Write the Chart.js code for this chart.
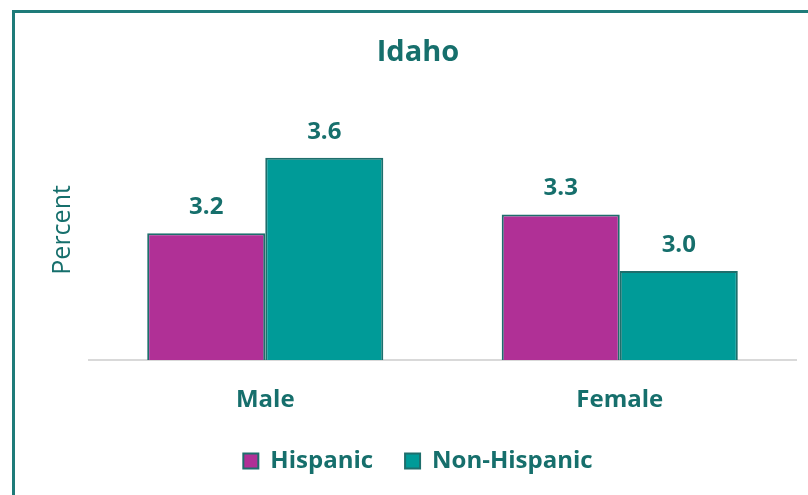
<!DOCTYPE html>
<html>
<head>
<meta charset="utf-8">
<script src="https://cdn.jsdelivr.net/npm/chart.js@4"></script>
<style>
  html, body { margin: 0; padding: 0; background: #fff; overflow: hidden; }
  #wrap { position: relative; width: 808px; height: 495px; }
  #frame { position: absolute; left: 12px; top: 10px; width: 900px; height: 600px;
           border-left: 3px solid #1e7b79; border-top: 3px solid #1e7b79; }
  canvas { position: absolute; left: 0; top: 0; }
</style>
</head>
<body>
<div id="wrap">
  <div id="frame"></div>
  <canvas id="idahoChart" width="808" height="495"></canvas>
</div>
<script>
const categories = ['Male', 'Female'];
const hispanic = [3.2, 3.3];
const nonHispanic = [3.6, 3.0];

const teal = '#166f6c';
const fontFamily = '"Open Sans", sans-serif';

// gray base line + value labels above each bar
const barLabels = {
  id: 'barLabels',
  beforeDatasetsDraw(chart) {
    const { ctx, chartArea } = chart;
    ctx.save();
    ctx.strokeStyle = '#d9d9d9';
    ctx.lineWidth = 2;
    ctx.beginPath();
    ctx.moveTo(chartArea.left, chartArea.bottom);
    ctx.lineTo(chartArea.right, chartArea.bottom);
    ctx.stroke();
    ctx.restore();
  },
  afterDatasetsDraw(chart) {
    const { ctx } = chart;
    ctx.save();
    ctx.font = 'bold 24px ' + fontFamily;
    ctx.fillStyle = teal;
    ctx.textAlign = 'center';
    ctx.textBaseline = 'middle';
    chart.data.datasets.forEach((ds, i) => {
      chart.getDatasetMeta(i).data.forEach((bar, j) => {
        ctx.fillText(ds.data[j].toFixed(1), bar.x, bar.y - 26);
      });
    });
    ctx.restore();
  }
};

const ctx = document.getElementById('idahoChart').getContext('2d');

const idahoChart = new Chart(ctx, {
  type: 'bar',
  data: {
    labels: categories,
    datasets: [{
      label: 'Hispanic',
      data: hispanic,
      backgroundColor: '#b03096',
      borderColor: '#1e6e6c',
      borderWidth: 2
    }, {
      label: 'Non-Hispanic',
      data: nonHispanic,
      backgroundColor: '#009b98',
      borderColor: '#1e6e6c',
      borderWidth: 2
    }]
  },
  options: {
    responsive: false,
    animation: false,
    layout: { padding: { left: 39, right: 11, top: 35, bottom: 12 } },
    datasets: { bar: { categoryPercentage: 0.666, barPercentage: 1 } },
    scales: {
      x: {
        grid: { display: false, drawTicks: false },
        border: { display: false },
        ticks: { color: teal, font: { family: fontFamily, size: 24, weight: 'bold' }, padding: 26 },
        afterFit: s => { s.height = 57; }
      },
      y: {
        min: 2.53,
        max: 3.906,
        grid: { display: false, drawTicks: false },
        border: { display: false },
        ticks: { display: false },
        title: {
          display: true,
          text: 'Percent',
          color: teal,
          font: { family: fontFamily, size: 25 },
          padding: { top: 9, bottom: 10 }
        }
      }
    },
    plugins: {
      title: {
        display: true,
        text: 'Idaho',
        color: teal,
        font: { family: fontFamily, size: 29, weight: 'bold' },
        padding: { top: 0, bottom: 30 }
      },
      legend: {
        position: 'bottom',
        labels: {
          color: teal,
          font: { family: fontFamily, size: 24, weight: 'bold' },
          boxWidth: 15,
          boxHeight: 15,
          padding: 32
        }
      },
      tooltip: { enabled: false }
    }
  },
  plugins: [barLabels]
});
</script>
</body>
</html>
